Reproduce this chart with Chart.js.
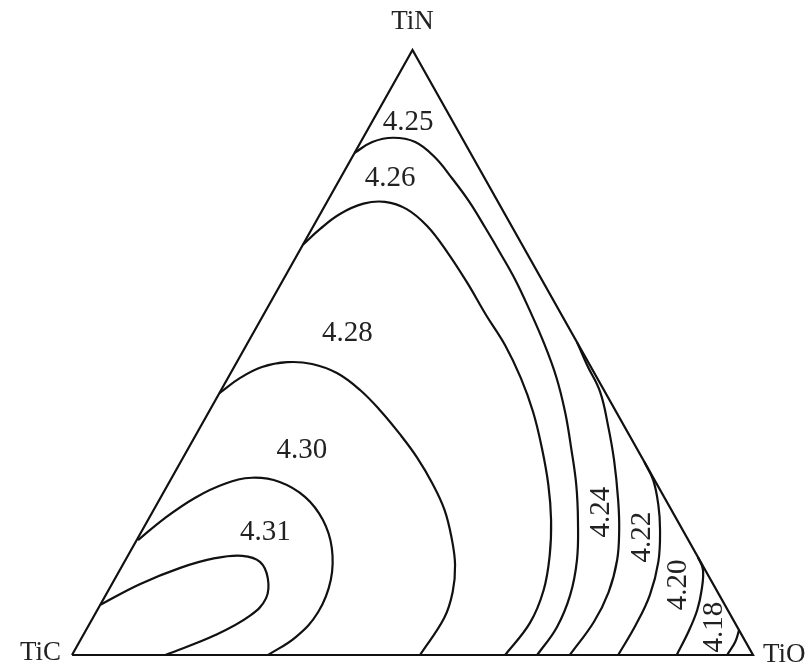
<!DOCTYPE html>
<html>
<head>
<meta charset="utf-8">
<script src="https://cdn.jsdelivr.net/npm/chart.js@4.4.1/dist/chart.umd.min.js"></script>
<style>
  html, body { margin: 0; padding: 0; background: #fff; }
  canvas { display: block; }
</style>
</head>
<body>
<canvas id="chart" width="810" height="668"></canvas>
<script>
const vertexNames = ['TiC', 'TiO', 'TiN'];
const levels = ['4.31', '4.30', '4.28', '4.26', '4.25', '4.24', '4.22', '4.20', '4.18'];

const c431 = [[0, 8.3], [4.1, 11.7], [8.7, 14.4], [13.0, 16.0], [16.8, 16.4], [19.9, 15.4],
              [22.4, 12.7], [23.8, 9.4], [22.9, 6.5], [19.4, 3.3], [13.7, 0]];
const c430 = [[0.2, 19.0], [2.3, 22.6], [5.1, 26.0], [8.3, 28.3], [11.8, 29.3], [16.2, 28.6],
              [21.2, 26.1], [25.7, 22.3], [29.3, 17.7], [31.8, 12.4], [32.6, 7.1], [31.4, 3.0], [28.8, 0]];
const c428 = [[0, 43.3], [1.8, 45.8], [4.1, 47.6], [7.4, 48.4], [11.2, 48.1], [15.6, 46.6],
              [20.4, 43.8], [25.2, 40.3], [29.9, 36.5], [34.4, 32.6], [38.7, 28.4], [42.7, 24.0],
              [46.1, 19.3], [48.8, 14.9], [50.7, 10.4], [51.6, 6.1], [51.1, 0]];
const c426 = [[0, 67.8], [1.2, 70.4], [2.9, 72.9], [5.5, 74.6], [8.5, 74.9], [12.3, 73.7],
              [16.7, 70.9], [21.8, 66.6], [27.3, 61.5], [32.7, 56.2], [38.0, 51.2], [43.0, 45.8],
              [47.6, 40.2], [51.9, 34.2], [55.9, 28.1], [59.2, 22.3], [61.9, 16.5], [63.9, 10.7],
              [64.6, 5.3], [63.6, 0]];
const c425 = [[0, 83.0], [1.7, 84.8], [4.4, 85.5], [8.0, 84.8], [12.1, 82.3], [16.4, 78.8],
              [20.9, 74.9], [25.3, 70.7], [29.6, 66.5], [34.1, 62.0], [38.7, 57.0], [43.4, 51.7],
              [48.1, 46.0], [52.3, 40.2], [56.2, 34.2], [60.0, 28.1], [63.3, 22.0], [66.3, 15.7],
              [68.2, 9.9], [68.9, 4.6], [68.3, 0]];
const c424 = [[48.4, 51.6], [51.7, 47.9], [55.8, 43.5], [59.7, 38.0], [63.5, 32.2], [67.4, 25.6],
              [70.0, 20.7], [72.2, 15.7], [73.6, 10.4], [73.9, 5.5], [73.1, 0]];
const c422 = [[68.1, 31.9], [70.9, 28.9], [73.7, 24.8], [76.0, 20.7], [78.4, 15.4], [79.9, 9.9],
              [80.3, 5.0], [80.2, 0]];
const c420 = [[83.8, 16.2], [85.6, 14.1], [87.1, 10.7], [88.1, 7.4], [88.6, 3.8], [88.8, 0]];
const c418 = [[95.9, 4.1], [96.3, 2.2], [96.2, 0]];

const contours = [c431, c430, c428, c426, c425, c424, c422, c420, c418];

// Onde cada rótulo de nível fica escrito, também em [TiO %, TiN %]
const labelSpots = [[18.3, 20.2], [16.8, 33.9], [13.9, 53.1], [7.3, 78.8], [5.3, 88.1],
                    [65.9, 23.6], [74.0, 19.5], [83.3, 11.6], [92.0, 4.6]];
const labelVertical = [false, false, false, false, false, true, true, true, true];

// Converter composição ternária para coordenadas do plano
function toXY(p) {
    return { x: p[0] + p[1] / 2, y: p[1] };
}

const triangle = [[0, 0], [100, 0], [0, 100], [0, 0]];

const datasets = [{
    data: triangle.map(toXY),
    tension: 0
}].concat(contours.map(c => ({
    data: c.map(toXY),
    tension: 0.4
})));

datasets.forEach(ds => {
    ds.showLine = true;
    ds.borderColor = '#111';
    ds.borderWidth = 2.2;
    ds.pointRadius = 0;
    ds.clip = false;
    ds.fill = false;
});

// Plugin para escrever os rótulos de nível e os nomes dos vértices
const textPlugin = {
    id: 'ternaryText',
    afterDatasetsDraw(chart) {
        const ctx = chart.ctx;
        const xs = chart.scales.x;
        const ys = chart.scales.y;
        const px = p => {
            const q = toXY(p);
            return [xs.getPixelForValue(q.x), ys.getPixelForValue(q.y)];
        };
        ctx.save();
        ctx.fillStyle = '#222';
        ctx.font = '29px "Liberation Serif", "DejaVu Serif", serif';
        ctx.textAlign = 'center';
        ctx.textBaseline = 'middle';
        levels.forEach((txt, i) => {
            const [x, y] = px(labelSpots[i]);
            ctx.save();
            ctx.translate(x, y);
            if (labelVertical[i]) ctx.rotate(-Math.PI / 2);
            ctx.fillText(txt, 0, 0);
            ctx.restore();
        });

        ctx.font = '27px "Liberation Serif", "DejaVu Serif", serif';
        const [tcX, tcY] = px([0, 0]);
        const [toX, toY] = px([100, 0]);
        const [tnX, tnY] = px([0, 100]);
        ctx.textAlign = 'right';
        ctx.fillText(vertexNames[0], tcX - 11, tcY - 2);
        ctx.textAlign = 'left';
        ctx.fillText(vertexNames[1], toX + 10, toY);
        ctx.textAlign = 'center';
        ctx.fillText(vertexNames[2], tnX, tnY - 28);
        ctx.restore();
    }
};

new Chart(document.getElementById('chart'), {
    type: 'scatter',
    data: { datasets: datasets },
    options: {
        responsive: false,
        animation: false,
        devicePixelRatio: 1,
        layout: { padding: { left: 72, right: 57, top: 50, bottom: 13 } },
        plugins: {
            legend: { display: false },
            tooltip: { enabled: false }
        },
        scales: {
            x: { type: 'linear', min: 0, max: 100, display: false },
            y: { type: 'linear', min: 0, max: 100, display: false }
        }
    },
    plugins: [textPlugin]
});
</script>
</body>
</html>
